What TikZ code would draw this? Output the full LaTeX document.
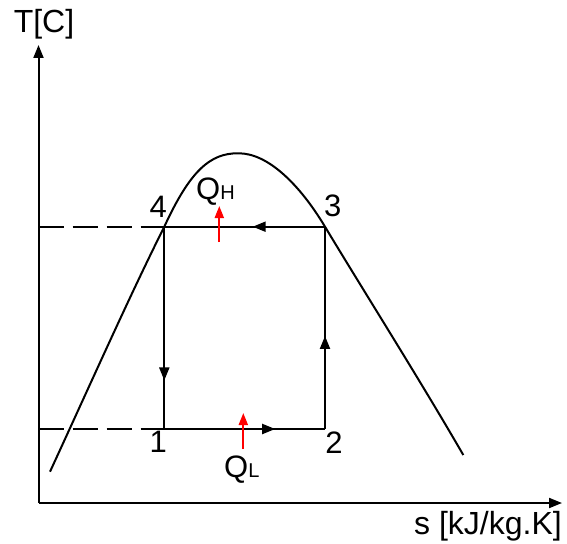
\documentclass[tikz,border=0pt]{standalone}
\usepackage{fontspec}
\setmainfont{Liberation Sans}
\usetikzlibrary{arrows.meta,decorations.markings}
\tikzset{
  lbl/.style={inner sep=0pt, font=\fontsize{31}{34}\selectfont},
  axlbl/.style={inner sep=0pt, font=\fontsize{32}{36}\selectfont},
  axis/.style={line width=2pt, -{Triangle[length=13pt,width=10pt]}},
  cyc/.style={line width=2pt},
  dome/.style={line width=2pt},
  guide/.style={line width=1.6pt, dash pattern=on 25pt off 9pt},
  heat/.style={red, line width=2pt, -{Triangle[length=12pt,width=9pt]}},
  midarrow/.style={postaction=decorate, decoration={markings,
      mark=at position #1 with {\arrow{Triangle[length=13pt,width=10pt]}}}}
}
\begin{document}
\begin{tikzpicture}[x=1pt,y=-1pt]
\useasboundingbox (0,0) rectangle (567,543);
% axes
\coordinate (O) at (38.5,503);
\coordinate (ytip) at (38.5,45);
\coordinate (xtip) at (562,503);
\draw[axis] (O) -- (ytip);
\draw[axis] (O) -- (xtip);
\node[axlbl] (tlab) at (44,24) {T[C]};
\node[axlbl] (slab) at (488,526) {s [kJ/kg.K]};
% cycle corners
\coordinate (p1) at (164.3,429);
\coordinate (p2) at (325,429);
\coordinate (p3) at (325,226.7);
\coordinate (p4) at (164.3,226.7);
\coordinate (d4) at (38.5,226.7);
\coordinate (d1) at (38.5,429);
% dashed guides
\draw[guide] (d4) -- (p4);
\draw[guide] (d1) -- (p1);
% dome
\draw[dome] (50,471.7) .. controls (90,385) and (130,295) .. (p4)
  .. controls (190,171) and (210,153) .. (238.3,153.3)
  .. controls (268,153) and (300,185) .. (p3)
  .. controls (360,285) and (420,380) .. (463.3,455);
% cycle
\draw[cyc, midarrow=0.45] (p3) -- (p4);
\draw[cyc, midarrow=0.76] (p4) -- (p1);
\draw[cyc, midarrow=0.69] (p1) -- (p2);
\draw[cyc, midarrow=0.46] (p2) -- (p3);
% state labels
\node[lbl] (n4) at (158.3,206.7) {4};
\node[lbl] (n3) at (332.7,206) {3};
\node[lbl] (n1) at (158.3,441.7) {1};
\node[lbl] (n2) at (334,443) {2};
% heat arrows
\coordinate (qhs) at (219.3,242);
\coordinate (qht) at (219.3,206);
\coordinate (qls) at (243.3,449);
\coordinate (qlt) at (243.3,413);
\draw[heat] (qhs) -- (qht);
\draw[heat] (qls) -- (qlt);
\node[lbl, anchor=base west] (qh) at (196,199) {Q\fontsize{20}{22}\selectfont H};
\node[lbl, anchor=base west] (ql) at (224,477) {Q\fontsize{20}{22}\selectfont L};
\end{tikzpicture}
\end{document}
